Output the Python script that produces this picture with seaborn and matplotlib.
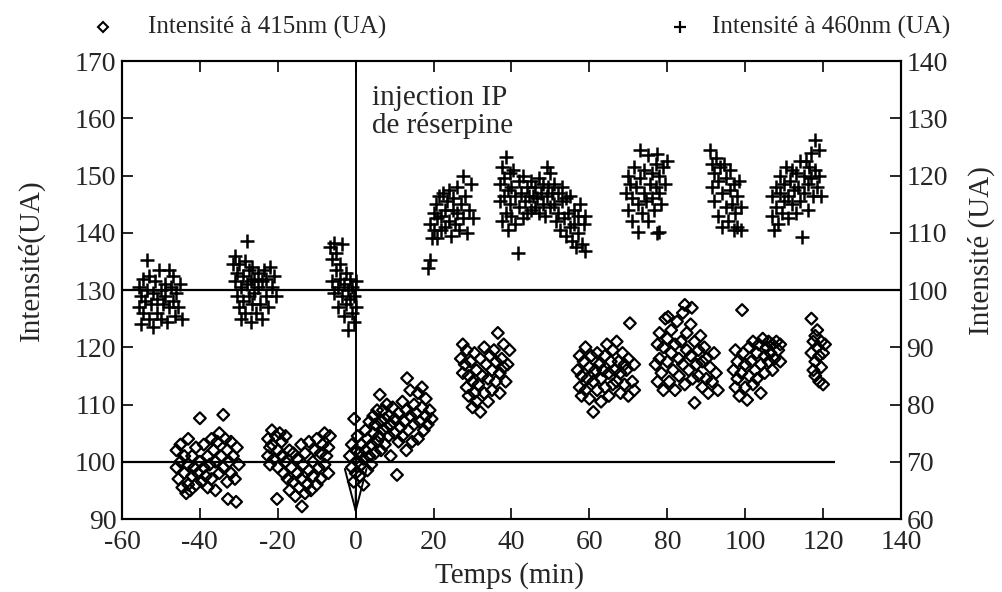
import matplotlib
matplotlib.use("Agg")
import matplotlib.pyplot as plt
import seaborn as sns
import pandas as pd
from matplotlib.lines import Line2D

# ---------------- data (time in min, intensity in UA) ----------------
# 415 nm (left axis) - one list of (time, intensity) per recording session
i415_s1 = [(-46,99),(-46,102),(-45.5,97),(-45,100),(-45,103),(-44.5,95.5),(-44,98),(-44,101),(-43.5,94.5),(-43,96),
           (-43,99.5),(-43,104),(-42.5,95),(-42,97.5),(-42,101),(-41.5,99),(-41,96),(-41,102.5),(-40.5,98),(-40,107.6),
           (-40,100),(-39.5,96.5),(-39,99),(-39,103),(-38.5,97.5),(-38,101),(-38,95.5),(-37.5,99.5),(-37,104),(-37,97),
           (-36.5,102),(-36,100),(-36,95),(-35.5,103.5),(-35,98),(-35,105),(-34.5,101),(-34,108.2),(-34,99),(-33.5,104),
           (-33,96.5),(-33,102),(-32.8,93.5),(-32.5,100),(-32,103.5),(-32,98),(-31.5,101),(-31,97),(-30.7,93),(-30.5,102.5),
           (-30,99.5)]
i415_s2 = [(-22.5,101),(-22.5,104),(-22,102.5),(-22,99.5),(-21.5,105.5),(-21.5,103),(-21,100.5),(-20.5,104.5),(-20.2,93.5),(-20,102),
           (-20,99),(-19.5,105),(-19,101),(-19,103.5),(-18.5,98),(-18,104.5),(-18,100),(-17.5,97),(-17,102),(-17,95),
           (-16.5,99),(-16,96.5),(-16,101.5),(-15.5,94),(-15,98),(-15,100.5),(-14.5,95.5),(-14,97),(-14,103),(-13.8,92.2),
           (-13.5,99.5),(-13,94.5),(-13,101.5),(-12.5,96),(-12,98.5),(-12,103.5),(-11.5,95),(-11,100),(-11,97.5),(-10.5,102),
           (-10,96),(-10,104),(-9.5,99),(-9,101.5),(-9,97),(-8.5,103),(-8,99.5),(-8,105),(-7.5,101),(-7,98),
           (-7,102.5),(-6.6,104.5)]
i415_s3 = [(-1.5,101),(-1,99),(-1,103),(-0.5,96.5),(-0.4,107.5),(0,98),(0,102),(0.5,100),(0.5,104.5),(1,97.5),
           (1,101.5),(1.5,99.5),(1.5,103),(2,96),(2,100.5),(2.5,102),(2.5,105.5),(3,98.5),(3,104),(3.5,101),
           (3.5,107),(4,99.5),(4,103),(4.5,105),(4.5,108),(5,101.5),(5,106.5),(5.5,103.5),(5.5,109),(6,104.5),
           (6.2,111.7),(6.5,107),(6.5,102),(7,105.5),(7,109),(7.5,103),(7.5,107.5),(8,106),(8,110),(8.5,104.5),
           (8.5,108),(9,106.5),(9,101),(9.5,109.5),(10,105),(10,107.5),(10.6,97.7),(11,103.5),(11,108.5),(11.5,106),
           (12,104.5),(12,110.5),(12.5,107),(13,102),(13,109),(13.2,114.6),(13.5,105.5),(14,108),(14,112.5),(14.5,103.5),
           (15,106.5),(15,110),(15.5,108.5),(16,104),(16,112),(16.5,107),(17,109.5),(17,113),(17.5,105.5),(18,108),
           (18,111),(18.5,106.5),(19,109),(19.5,107.5)]
i415_s4 = [(27,118),(27.5,120.5),(27.5,115.5),(28,117),(28.5,113),(28.5,119.5),(29,115),(29,111.5),(29.5,117.5),(30,109.5),
           (30,114),(30.5,112),(30.5,119),(31,116),(31,110.5),(31.5,113.5),(32,118),(32,108.7),(32.5,115),(33,112),
           (33,120),(33.5,117),(34,114.5),(34,110.5),(34.5,118.5),(35,116),(35,112.5),(35.5,119.5),(36,114),(36,117.5),
           (36.5,122.5),(37,115.5),(37,112),(37.5,118),(38,116.5),(38,120.5),(38.5,114),(39,117),(39.5,119.5)]
i415_s5 = [(57,116),(57.5,113),(57.5,118.5),(58,111.5),(58,115),(58.5,117.5),(59,112.5),(59,120),(59.5,114.5),(60,116.5),
           (60,111),(60.5,118.5),(61,108.7),(61,114),(61.5,116),(62,112.5),(62,119),(62.5,117),(63,114.5),(63,110.5),
           (63.5,116),(64,118.5),(64,113),(64.5,120.5),(65,115.5),(65,111.5),(65.5,117.5),(66,113.5),(66,119.5),(66.5,116),
           (67,114),(67,121),(67.5,117.5),(68,112),(68,115.5),(68.5,119),(69,113.5),(69,117),(69.5,116),(70,111.5),
           (70,118),(70.4,124.2),(71,114),(71.5,112.5),(71.5,117)]
i415_s6 = [(77,117),(77.5,120.5),(77.5,114),(78,122.5),(78,118),(78.5,115.5),(79,120),(79,112.5),(79.5,125),(80,117.5),
           (80,121.5),(80.5,114),(81,119),(81,123),(81.5,116),(82,120.5),(82,112.5),(82.5,124.5),(83,118),(83,115),
           (83.5,121),(84,126),(84,117),(84.5,113.5),(85,119.5),(85,122.5),(85.5,116),(86,124),(86,118.5),(86.5,114.5),
           (87,121),(87,110.3),(87.5,117),(88,119.5),(88,115),(88.5,122),(89,113),(89,117.5),(89.5,120),(90,114.5),
           (90,118),(90.5,112),(91,116.5),(91.5,114),(92,119),(92.5,115.5),(93,112.5),(84.5,127.4),(86.3,126.9),(80.2,125.3)]
i415_s7 = [(97,116),(97.5,113),(97.5,119.5),(98,114.5),(98,117.5),(98.5,111.5),(99,115.5),(99.2,126.5),(99.5,119),(100,113),
           (100,117),(100.5,110.8),(101,115),(101,120),(101.5,117.5),(102,113.5),(102,121),(102.5,116),(103,119),(103,114.5),
           (103.5,120.5),(104,117),(104,112),(104.5,121.5),(105,118.5),(105,115.5),(105.5,120),(106,117.5),(106,121),(106.5,119),
           (107,116),(107,120.5),(107.5,118),(108,121),(108.5,119.5),(109,117.5),(109,120.5)]
i415_s8 = [(117,125),(117.5,121),(117,119),(118,122),(118,117.5),(118.5,120),(117.5,116),(119,118.5),(119,114),(118.5,123),
           (119.5,121),(120,119),(119.5,116.5),(120,113.5),(120.5,120.5),(118,115)]

# 460 nm (right axis)
i460_s1 = [(-55.5,97),(-55.5,100.5),(-55,94),(-55,99),(-54.5,102),(-54.5,96),(-54,98),(-53.5,105.2),(-53.5,100),(-53,95),
           (-53,102.5),(-52.5,97.5),(-52,99.5),(-52,93.5),(-51.5,101.5),(-51,96),(-51,98.5),(-50.5,103.5),(-50,100),(-50,95),
           (-49.5,97.5),(-49,101),(-49,99),(-48.5,94.5),(-48,103.5),(-48,97),(-47.5,100.5),(-47,98),(-47,102.5),(-46.5,95.5),
           (-46,99.5),(-45.5,97),(-45,101),(-44.5,95)]
i460_s2 = [(-31.5,104.5),(-31,101.5),(-31,106),(-30.5,99),(-30.5,103),(-30,97),(-30,104.5),(-29.5,100.5),(-29.5,95),(-29,102.5),
           (-29,98),(-28.5,105),(-28.5,96),(-28,101),(-27.9,108.6),(-27.5,103.5),(-27.5,99),(-27,94.5),(-27,101.5),(-26.5,104),
           (-26.5,97.5),(-26,102),(-26,99.5),(-25.5,96),(-25,103),(-25,100.5),(-24.5,97.5),(-24,101.5),(-24,95),(-23.5,103.5),
           (-23,99),(-23,102),(-22.5,97),(-22,104),(-21.5,100.5),(-21,102.5),(-20.5,99)]
i460_s3 = [(-6.5,107.5),(-6,105.5),(-6,101.5),(-5.5,108.3),(-5.5,99.5),(-5,103.5),(-5,106.5),(-4.5,100.5),(-4.5,97),(-4,102),
           (-4,104.5),(-3.5,108),(-3.5,99),(-3,101),(-3,95.5),(-2.5,103),(-2.5,97.5),(-2,100),(-2,93),(-1.5,102),
           (-1.5,98.5),(-1,96),(-1,100.5),(-0.5,94.5),(-0.5,99),(0,101.5),(0,97)]
i460_s4 = [(18.6,103.8),(19.1,105.2),(19,111.5),(19.5,109),(20,113.5),(20,110.5),(20.5,115),(21,112.5),(21,109),(21.5,116.5),
           (22,113),(22,110.5),(22.5,117),(23,114),(23,111),(23.5,115.5),(24,112),(24,117.5),(24.5,109.5),(25,114),
           (25,116),(25.5,111.5),(26,113.5),(26,118),(26.5,110.5),(27,115),(27.5,112.5),(27.5,120),(28,116.5),(28.5,110),
           (29,114),(29.5,118.5),(30,112.5)]
i460_s5 = [(37,115.5),(37,118.5),(37.5,112),(37.5,121.5),(38,116.5),(38,119.5),(38.5,113.5),(38.5,123.2),(39,117.5),(39,110.5),
           (39.5,120.5),(39.5,115),(40,118),(40,113),(40.5,121),(41,116.5),(41,111.5),(41.7,106.5),(42,119),(42,114.5),
           (42.5,117),(43,112.5),(43,120),(43.5,115.5),(44,118),(44,113.5),(44.5,116.5),(45,114),(45,119),
           (45.5,116.5),(46,118),(46,114.5),(46.5,116),(47,113.5),(47,119.5),(47.5,117),(48,115),(48,118.5),(48.5,113),
           (49,116.5),(49,121.5),(49.5,118),(50,114.5),(50,120.5),(50.5,117),
           (51,118.5),(51,115),(51.5,112),(52,117),(52,113.5),(52.5,110.5),(53,115.5),(53,118),(53.5,112.5),(54,116),
           (54,109.5),(54.5,113.5),(55,111),(55,116.5),(55.5,108.5),(56,114),(56,111.5),(56.5,107.5),(57,113),(57,110),
           (57.5,115),(58,108),(58.5,111.5),(59,106.8),(59,113)]
i460_s6 = [(69.5,117),(70,120),(70,114),(70.5,118.5),(71,112),(71,116),(71.5,121.5),(72,118),(72.5,110.1),(72.5,115),
           (73,124.5),(73,119.5),(73.5,113.5),(74,117),(74,121),(74.5,115.5),(75,123.5),(75,112),(75.5,118.5),(76,116),
           (76,120.5),(76.5,114),(77,122),(77,118),(77.4,123.8),(77.4,110),(78,117),(78,120),(78.5,115),(79,121.5),
           (79.5,118.5),(78,110.2),(80,122.5)]
i460_s7 = [(91,124.5),(91.5,122),(91.5,118),(92,120.5),(92,115.5),(92.5,123),(93,119),(93,113),(93.5,121.5),(94,117),
           (94,111),(94.5,122),(95,119.5),(95,114.5),(95.5,112),(96,117.5),(96,121),(96.5,115),(97,118.5),(97,110.5),
           (97.5,113.5),(98,116.5),(98,111),(98.5,119),(99,114.5),(99,110.5)]
i460_s8 = [(107,113),(107,116.5),(107.5,110.5),(108,118),(108,114.5),(108.5,111.5),(109,117),(109,120),(109.5,113.5),(110,118.5),
           (110,115.5),(110.5,121.5),(111,116.5),(111,112.5),(111.5,119),(112,121),(112,115),(112.5,117.5),(113,120.5),(113,113.5),
           (113.5,118),(114,122.5),(114,115.5),(114.6,109.3),(115,120),(115,117),(115.5,122.5),(116,118.5),(116,114),(116.5,121.5),
           (117,124),(117,119.5),(117.5,116.5),(118,126.2),(118,121),(118.5,118),(119,124.5),(119,120),(119.5,116.5)]

# reference levels and axis ticks
ref_415 = 100     # baseline at 415 nm (left axis)
ref_460 = 100     # baseline at 460 nm (right axis)
ref_415_end = 123
injection_time = 0
x_ticks = [-60, -40, -20, 0, 20, 40, 60, 80, 100, 120, 140]
y_left_ticks = [90, 100, 110, 120, 130, 140, 150, 160, 170]
y_right_ticks = [60, 70, 80, 90, 100, 110, 120, 130, 140]

label_415 = "Intensité à 415nm (UA)"
label_460 = "Intensité à 460nm (UA)"

def to_frame(sessions):
    rows = [p for s in sessions for p in s]
    return pd.DataFrame(rows, columns=["t", "I"])

df415 = to_frame([i415_s1, i415_s2, i415_s3, i415_s4, i415_s5, i415_s6, i415_s7, i415_s8])
df460 = to_frame([i460_s1, i460_s2, i460_s3, i460_s4, i460_s5, i460_s6, i460_s7, i460_s8])

# ---------------- figure ----------------
sns.set_style("ticks")
plt.rcParams["font.family"] = ["Liberation Serif", "DejaVu Serif"]
plt.rcParams["axes.linewidth"] = 1.5
plt.rcParams["axes.unicode_minus"] = False

fig = plt.figure(figsize=(10.03, 5.92), dpi=100)
ax = fig.add_axes([0.1216, 0.1233, 0.7767, 0.7736])
ax2 = ax.twinx()

ax.set_xlim(x_ticks[0], x_ticks[-1])
ax.set_ylim(y_left_ticks[0], y_left_ticks[-1])
ax2.set_ylim(y_right_ticks[0], y_right_ticks[-1])

# reference lines
ax.hlines(ref_415, x_ticks[0], ref_415_end, color="black", lw=1.6, zorder=1)
ax2.hlines(ref_460, x_ticks[0], x_ticks[-1], color="black", lw=1.6, zorder=1)
ax.axvline(injection_time, color="black", lw=1.4, zorder=1)

sns.scatterplot(data=df415, x="t", y="I", ax=ax, marker="D", s=36,
                facecolor="none", edgecolor="black", linewidth=1.6, legend=False, zorder=3)
sns.scatterplot(data=df460, x="t", y="I", ax=ax2, marker="+", s=100,
                color="black", linewidth=1.8, legend=False, zorder=3)

# injection arrow head
ax.annotate("", xy=(injection_time, 90.3), xytext=(injection_time, 95.6),
            arrowprops=dict(arrowstyle="->,head_length=1.0,head_width=0.26",
                            mutation_scale=30, color="black", lw=1.4))
ax.text(4.2, 165.8, "injection IP\nde réserpine", fontsize=21, va="top", ha="left",
        linespacing=1.05)

# ticks
ax.set_xticks(x_ticks)
ax.set_yticks(y_left_ticks)
ax2.set_yticks(y_right_ticks)
ax.tick_params(axis="both", direction="in", length=8, width=1.4, labelsize=20,
               top=True, right=False, pad=4)
ax.tick_params(axis="x", pad=8)
ax2.tick_params(axis="y", direction="in", length=8, width=1.4, labelsize=20, pad=4)
for a in (ax, ax2):
    for sp in a.spines.values():
        sp.set_visible(True)
        sp.set_linewidth(1.5)
        sp.set_color("black")

ax.set_xlabel("Temps (min)", fontsize=21)
ax.xaxis.set_label_coords(0.498, -0.095)
ax.set_ylabel("Intensité(UA)", fontsize=21)
ax.yaxis.set_label_coords(-0.099, 0.565)
ax2.set_ylabel("Intensité (UA)", fontsize=21, rotation=90)
ax2.yaxis.set_label_coords(1.086, 0.587)

# legend row above the plot
fig.add_artist(Line2D([0.1027], [0.954], marker="D", markersize=5.5, mfc="none",
                      mec="black", mew=1.5, transform=fig.transFigure))
fig.text(0.1476, 0.954, label_415, fontsize=18, va="center", ha="left")
fig.add_artist(Line2D([0.678], [0.954], marker="+", markersize=9, color="black",
                      mew=1.6, transform=fig.transFigure))
fig.text(0.71, 0.954, label_460, fontsize=18, va="center", ha="left")

fig.savefig("out.png", dpi=100)
